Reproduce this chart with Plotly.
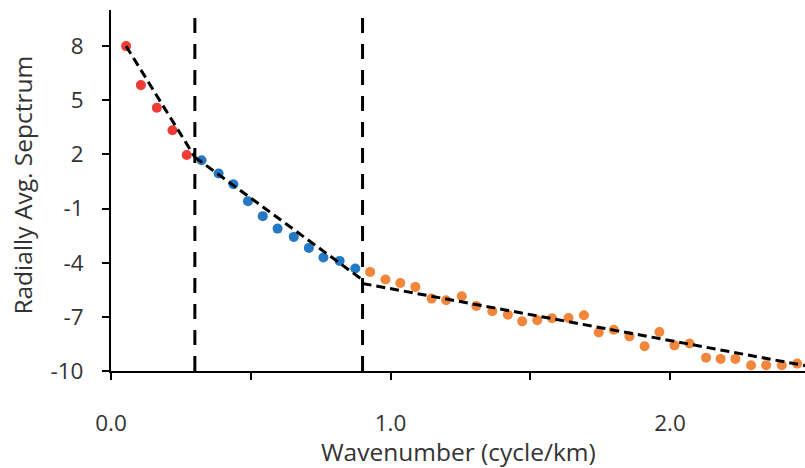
import plotly.graph_objects as go

# Data
red_x = [0.054, 0.107, 0.164, 0.220, 0.271]
red_y = [8.0, 5.84, 4.58, 3.34, 1.97]

blue_x = [0.324, 0.385, 0.438, 0.490, 0.543, 0.596, 0.654, 0.708, 0.760, 0.818, 0.874]
blue_y = [1.68, 0.94, 0.35, -0.59, -1.42, -2.11, -2.57, -3.18, -3.71, -3.90, -4.32]

orange_x = [0.927, 0.982, 1.035, 1.089, 1.147, 1.199, 1.255, 1.307, 1.364, 1.420,
            1.471, 1.525, 1.578, 1.637, 1.692, 1.745, 1.799, 1.855, 1.909, 1.962,
            2.016, 2.070, 2.129, 2.181, 2.234, 2.290, 2.344, 2.400, 2.455]
orange_y = [-4.51, -4.93, -5.12, -5.34, -5.99, -6.08, -5.86, -6.40, -6.69, -6.88,
            -7.25, -7.19, -7.08, -7.06, -6.91, -7.87, -7.71, -8.08, -8.63, -7.84,
            -8.58, -8.48, -9.26, -9.33, -9.33, -9.68, -9.68, -9.68, -9.59]

fit1_x = [0.054, 0.30]
fit1_y = [8.0, 1.85]
fit2_x = [0.30, 0.90]
fit2_y = [1.85, -4.95]
fit3_x = [0.90, 2.50]
fit3_y = [-5.15, -9.75]

cut_x = [0.30, 0.90]
y_range = [-10, 10]
x_range = [0, 2.483]

x_tickvals = [0.0, 0.5, 1.0, 1.5, 2.0]
x_ticktext = ["0.0", "", "1.0", "", "2.0"]
y_tickvals = [8, 5, 2, -1, -4, -7, -10]
y_ticktext = ["8", "5", "2", "-1", "-4", "-7", "-10"]

x_title = "Wavenumber (cycle/km)"
y_title = "Radially Avg. Sepctrum"

RED = "#EF3B36"
BLUE = "#2478C4"
ORANGE = "#F2863B"
TEXT = "#333333"

fig = go.Figure()

for xs, ys, c in [(red_x, red_y, RED), (blue_x, blue_y, BLUE), (orange_x, orange_y, ORANGE)]:
    fig.add_trace(go.Scatter(x=xs, y=ys, mode="markers",
                             marker=dict(color=c, size=10, line=dict(width=0)),
                             showlegend=False, cliponaxis=False))

for cx in cut_x:
    fig.add_trace(go.Scatter(x=[cx, cx], y=y_range, mode="lines",
                             line=dict(color="black", width=3, dash="15px,11px"),
                             showlegend=False))

for fx, fy in [(fit1_x, fit1_y), (fit2_x, fit2_y), (fit3_x, fit3_y)]:
    fig.add_trace(go.Scatter(x=fx, y=fy, mode="lines",
                             line=dict(color="black", width=3, dash="9px,5px"),
                             showlegend=False))

font = dict(family="'Open Sans', sans-serif", size=22.5, color=TEXT)
title_font = dict(family="'Open Sans', sans-serif", size=24.5, color=TEXT)

fig.update_layout(
    width=805, height=468,
    margin=dict(l=111, r=0, t=10, b=97),
    paper_bgcolor="white", plot_bgcolor="white",
    font=font,
    xaxis=dict(range=x_range, tickvals=x_tickvals, ticktext=x_ticktext,
               showgrid=False, zeroline=False, showline=True, linecolor="black",
               linewidth=2, ticks="outside", ticklen=7, tickwidth=2, tickcolor="black",
               ticklabelstandoff=24, automargin=False),
    yaxis=dict(range=y_range, tickvals=y_tickvals, ticktext=y_ticktext,
               showgrid=False, zeroline=False, showline=True, linecolor="black",
               linewidth=2, ticks="outside", ticklen=7, tickwidth=2, tickcolor="black",
               ticklabelstandoff=14, automargin=False),
    annotations=[
        dict(text=x_title, xref="paper", yref="paper", x=0.5, y=-0.222,
             xanchor="center", yanchor="middle", showarrow=False, font=title_font),
        dict(text=y_title, xref="paper", yref="paper", x=-0.128, y=0.514,
             xanchor="center", yanchor="middle", showarrow=False, textangle=-90,
             font=title_font),
    ],
)

fig.write_html(
    "out.html",
    config={"displayModeBar": False},
    post_script="document.body.style.margin='0';document.body.style.overflow='hidden';",
)
